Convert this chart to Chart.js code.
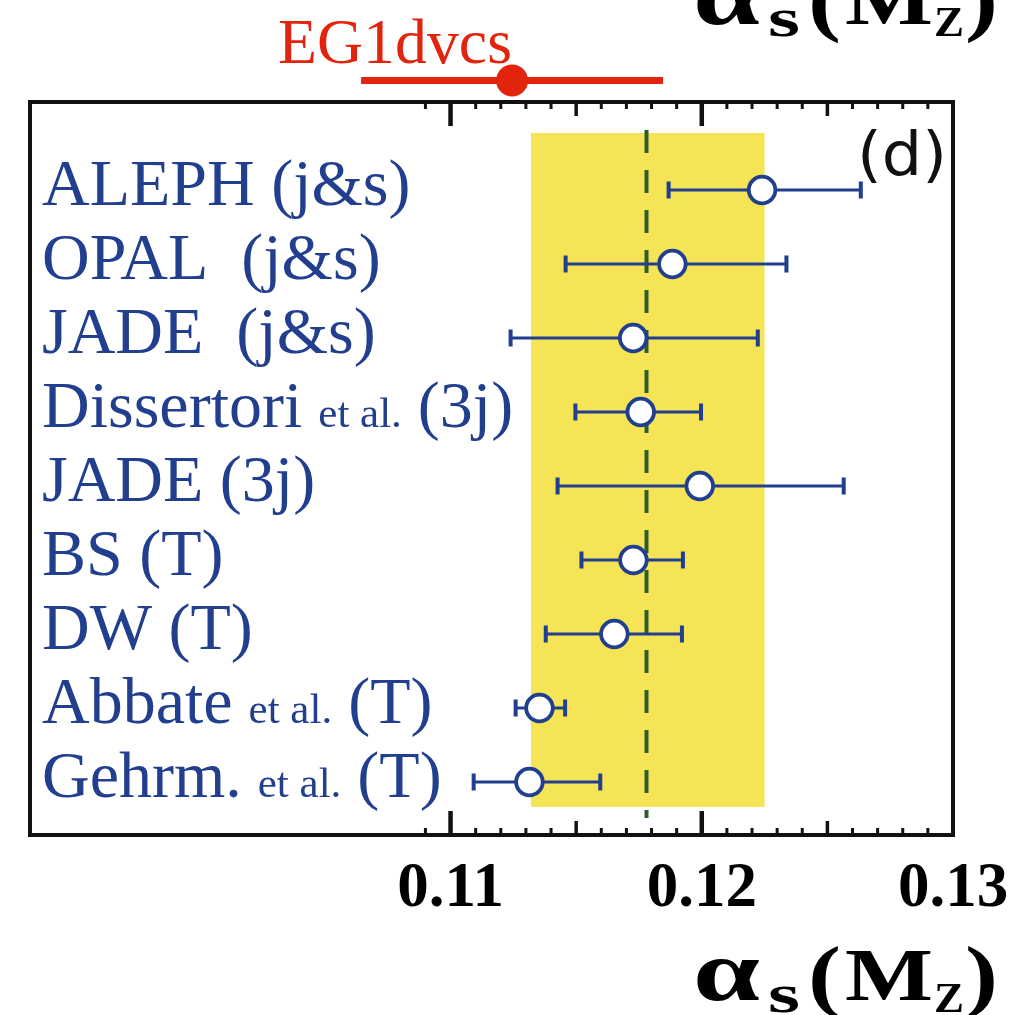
<!DOCTYPE html>
<html>
<head>
<meta charset="utf-8">
<script src="https://cdn.jsdelivr.net/npm/chart.js@4.4.1/dist/chart.umd.min.js"></script>
<style>
html,body{margin:0;padding:0;background:#ffffff;}
#wrap{width:1028px;height:1015px;position:relative;}
</style>
</head>
<body>
<div id="wrap"><canvas id="c" width="1028" height="1015"></canvas></div>
<script>
// ---------------- data ----------------
const categories = [
  "ALEPH (j&s)",
  "OPAL  (j&s)",
  "JADE  (j&s)",
  "Dissertori et al. (3j)",
  "JADE (3j)",
  "BS (T)",
  "DW (T)",
  "Abbate et al. (T)",
  "Gehrm. et al. (T)"
];
const centralValues = [0.12240, 0.11883, 0.11727, 0.11757, 0.11992, 0.11728, 0.11652, 0.11354, 0.11314];
const lowerValues   = [0.11868, 0.11458, 0.11239, 0.11497, 0.11426, 0.11521, 0.11379, 0.11259, 0.11092];
const upperValues   = [0.12633, 0.12337, 0.12223, 0.11997, 0.12565, 0.11925, 0.11921, 0.11456, 0.11596];
const bandRange = [0.1132, 0.1225];
const referenceValue = 0.1178;
const eg1Label = "EG1dvcs";
const eg1Central = [0.11245];
const eg1Range = [0.10644, 0.11846];
const xTickLabels = [0.11, 0.12, 0.13];
const minorTickRange = [0.109, 0.130];
const panelTag = "(d)";

// ---------------- styles ----------------
const BLUE = '#213f8e';
const RED = '#e2240c';
const YELLOW = '#f5e556';
const GREEN = '#2c5b2c';
const SERIF = '"Liberation Serif", "Times New Roman", serif';

function fitText(ctx, text, x, y, font, color, width) {
  ctx.save();
  ctx.font = font;
  ctx.fillStyle = color;
  ctx.textBaseline = 'alphabetic';
  ctx.textAlign = 'left';
  const w0 = ctx.measureText(text).width;
  const sx = width ? width / w0 : 1;
  ctx.translate(x, y);
  ctx.scale(sx, 1);
  ctx.fillText(text, 0, 0);
  ctx.restore();
}

function drawAxisTitle(ctx, dy) {
  fitText(ctx, 'α', 693, 1000 + dy, 'bold 86px ' + SERIF, '#000', 67);
  fitText(ctx, 's', 768, 1012 + dy, 'bold 54px ' + SERIF, '#000', 32);
  fitText(ctx, '(', 808, 1002 + dy, 'bold 80px ' + SERIF, '#000', 33);
  fitText(ctx, 'M', 845, 1000 + dy, 'bold 75px ' + SERIF, '#000', 88);
  fitText(ctx, 'Z', 934, 1012 + dy, 'bold 42px ' + SERIF, '#000', 30);
  fitText(ctx, ')', 965, 1002 + dy, 'bold 80px ' + SERIF, '#000', 33);
}

function drawRowLabel(ctx, text, x, y) {
  const big = '66px ' + SERIF;
  const small = '43px ' + SERIF;
  ctx.save();
  ctx.fillStyle = BLUE;
  ctx.textBaseline = 'alphabetic';
  ctx.textAlign = 'left';
  const parts = text.split(' et al. ');
  ctx.font = big;
  ctx.fillText(parts[0], x, y);
  if (parts.length > 1) {
    let cx = x + ctx.measureText(parts[0]).width + 16;
    ctx.font = small;
    ctx.fillText('et al.', cx, y);
    cx += ctx.measureText('et al.').width + 16;
    ctx.font = big;
    ctx.fillText(parts[1], cx, y);
  }
  ctx.restore();
}

const decorPlugin = {
  id: 'decor',
  beforeDatasetsDraw(chart) {
    const ctx = chart.ctx;
    const xs = chart.scales.x, ys = chart.scales.y;
    const a = chart.chartArea;
    ctx.save();
    // yellow band
    const bx0 = xs.getPixelForValue(bandRange[0]);
    const bx1 = xs.getPixelForValue(bandRange[1]);
    ctx.fillStyle = YELLOW;
    ctx.fillRect(bx0, a.top + 31, bx1 - bx0, (a.bottom - 28) - (a.top + 31));
    // dashed reference line
    const rx = xs.getPixelForValue(referenceValue);
    ctx.strokeStyle = GREEN;
    ctx.lineWidth = 4;
    ctx.setLineDash([23, 17]);
    ctx.beginPath();
    ctx.moveTo(rx, a.top + 28);
    ctx.lineTo(rx, a.bottom - 17);
    ctx.stroke();
    ctx.setLineDash([]);
    // error bars
    ctx.strokeStyle = BLUE;
    for (let i = 0; i < categories.length; i++) {
      const y = ys.getPixelForValue(i);
      const x0 = xs.getPixelForValue(lowerValues[i]);
      const x1 = xs.getPixelForValue(upperValues[i]);
      ctx.lineWidth = 3.2;
      ctx.beginPath();
      ctx.moveTo(x0, y); ctx.lineTo(x1, y);
      ctx.stroke();
      ctx.lineWidth = 4;
      ctx.beginPath();
      ctx.moveTo(x0, y - 8.5); ctx.lineTo(x0, y + 8.5);
      ctx.moveTo(x1, y - 8.5); ctx.lineTo(x1, y + 8.5);
      ctx.stroke();
    }
    ctx.restore();
  },
  afterDraw(chart) {
    const ctx = chart.ctx;
    const xs = chart.scales.x, ys = chart.scales.y;
    const a = chart.chartArea;
    ctx.save();
    // frame
    ctx.strokeStyle = '#111';
    ctx.lineWidth = 4;
    ctx.strokeRect(a.left, a.top, a.right - a.left, a.bottom - a.top);
    // ticks top and bottom
    const n = Math.round((minorTickRange[1] - minorTickRange[0]) * 1000);
    for (let k = 0; k <= n; k++) {
      const v = minorTickRange[0] + k * 0.001;
      const m = Math.round(v * 1000);
      let len = 7, lw = 3;
      if (m % 10 === 0) { len = 24; lw = 4.5; }
      else if (m % 5 === 0) { len = 14; lw = 3.5; }
      const px = xs.getPixelForValue(v);
      if (px > a.right - 2) continue;
      ctx.lineWidth = lw;
      ctx.beginPath();
      ctx.moveTo(px, a.bottom); ctx.lineTo(px, a.bottom - len);
      ctx.moveTo(px, a.top); ctx.lineTo(px, a.top + len);
      ctx.stroke();
    }
    // row labels
    for (let i = 0; i < categories.length; i++) {
      drawRowLabel(ctx, categories[i], a.left + 12, ys.getPixelForValue(i) + 15);
    }
    // panel tag
    fitText(ctx, panelTag, 857, 175, '60px "DejaVu Sans", sans-serif', '#111', 90);
    // EG1dvcs marker above frame
    const ey = a.top - 21.5;
    ctx.strokeStyle = RED;
    ctx.lineWidth = 7;
    ctx.beginPath();
    ctx.moveTo(xs.getPixelForValue(eg1Range[0]), ey);
    ctx.lineTo(xs.getPixelForValue(eg1Range[1]), ey);
    ctx.stroke();
    ctx.fillStyle = RED;
    ctx.beginPath();
    ctx.arc(xs.getPixelForValue(eg1Central[0]), ey, 16, 0, Math.PI * 2);
    ctx.fill();
    fitText(ctx, eg1Label, 278, 63, '63px ' + SERIF, RED, 234);
    // axis titles (bottom, and clipped copy at top)
    drawAxisTitle(ctx, 0);
    drawAxisTitle(ctx, -976);
    ctx.restore();
  }
};

const chart = new Chart(document.getElementById('c'), {
  type: 'scatter',
  data: {
    datasets: [{
      data: centralValues.map((v, i) => ({ x: v, y: i })),
      pointStyle: 'circle',
      pointRadius: 13.3,
      pointHoverRadius: 13.3,
      pointBorderWidth: 3.8,
      pointBackgroundColor: '#ffffff',
      pointBorderColor: BLUE,
      showLine: false
    }]
  },
  options: {
    responsive: false,
    devicePixelRatio: 1,
    animation: false,
    events: [],
    layout: { padding: { left: 30, top: 102, right: 75, bottom: 0 } },
    plugins: { legend: { display: false }, tooltip: { enabled: false } },
    scales: {
      x: {
        type: 'linear',
        min: 0.09326,
        max: 0.13,
        afterFit(scale) { scale.height = 180; },
        afterBuildTicks(scale) { scale.ticks = xTickLabels.map(v => ({ value: v })); },
        grid: { display: false, drawTicks: false },
        border: { display: false },
        ticks: {
          autoSkip: false,
          maxRotation: 0,
          padding: 17,
          color: '#000',
          font: { family: SERIF, size: 63, weight: 'bold' },
          callback: v => Number(v).toFixed(2)
        }
      },
      y: {
        type: 'linear',
        display: false,
        reverse: true,
        min: -1.189,
        max: 8.716
      }
    }
  },
  plugins: [decorPlugin]
});
</script>
</body>
</html>
